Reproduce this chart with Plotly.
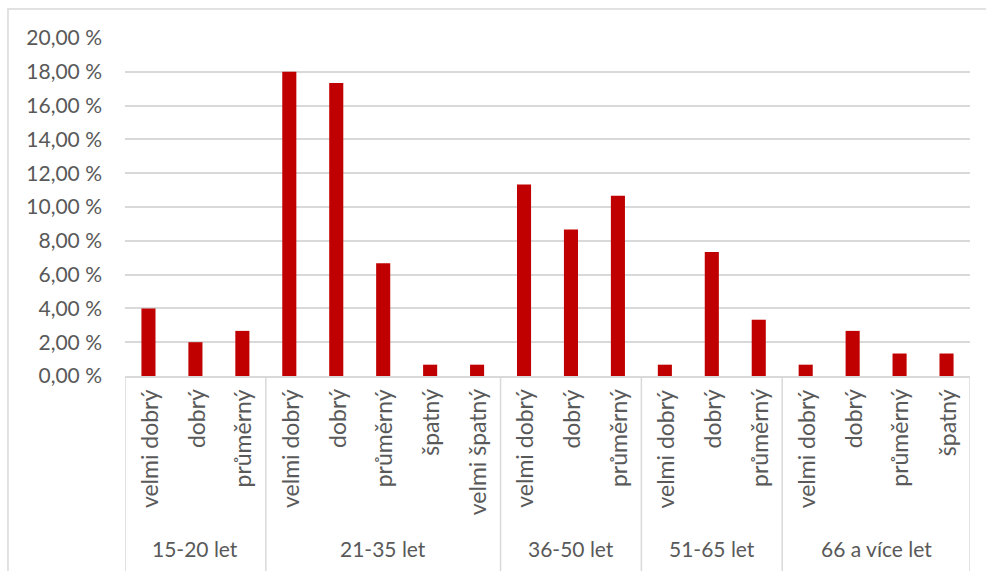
import plotly.graph_objects as go

groups = ["15-20 let", "21-35 let", "36-50 let", "51-65 let", "66 a více let"]
group_items = [
    ["velmi dobrý", "dobrý", "průměrný"],
    ["velmi dobrý", "dobrý", "průměrný", "špatný", "velmi špatný"],
    ["velmi dobrý", "dobrý", "průměrný"],
    ["velmi dobrý", "dobrý", "průměrný"],
    ["velmi dobrý", "dobrý", "průměrný", "špatný"],
]
group_values = [
    [4.00, 2.00, 2.67],
    [18.00, 17.33, 6.67, 0.67, 0.67],
    [11.33, 8.67, 10.67],
    [0.67, 7.33, 3.33],
    [0.67, 2.67, 1.33, 1.33],
]
y_ticks = [0, 2, 4, 6, 8, 10, 12, 14, 16, 18, 20]
y_ticktext = ["%.2f %%" % v for v in y_ticks]
y_ticktext = [t.replace(".", ",") for t in y_ticktext]

labels, values = [], []
for items, vals in zip(group_items, group_values):
    labels += items
    values += vals
xs = list(range(len(labels)))

FONT = "Lato"
TXT = "#595959"
GRID = "#d9d9d9"

fig = go.Figure(go.Bar(x=xs, y=values, marker_color="#C00000", width=0.3,
                       marker_line_width=0))

ann = []
shapes = []
for x, lab in zip(xs, labels):
    ann.append(dict(x=x, y=-0.033, xref="x", yref="paper", text=lab, textangle=-90,
                    showarrow=False, xanchor="center", yanchor="top",
                    font=dict(family=FONT, size=23, color=TXT)))
start = 0
bounds = [-0.5]
for g, items in zip(groups, group_items):
    n = len(items)
    center = start + (n - 1) / 2
    ann.append(dict(x=center, y=-0.509, xref="x", yref="paper", text=g,
                    showarrow=False, xanchor="center", yanchor="middle",
                    font=dict(family=FONT, size=21, color=TXT)))
    start += n
    bounds.append(start - 0.5)
for b in bounds:
    shapes.append(dict(type="line", xref="x", yref="paper", x0=b, x1=b, y0=0, y1=-0.62,
                       line=dict(color=GRID, width=1.5)))
# outer frame
shapes.append(dict(type="rect", xref="paper", yref="paper", x0=-0.1385, x1=1.1, y0=-0.7, y1=1.0858,
                   line=dict(color=GRID, width=1.5), fillcolor="rgba(0,0,0,0)", layer="below"))

fig.update_layout(
    width=986, height=571,
    margin=dict(l=125, r=16, t=38, b=195),
    paper_bgcolor="white", plot_bgcolor="white",
    showlegend=False,
    annotations=ann, shapes=shapes,
    xaxis=dict(range=[-0.5, len(labels) - 0.5], showticklabels=False, showgrid=False,
               zeroline=False, showline=True, linecolor=GRID, linewidth=1.5, ticks="",
               fixedrange=True),
    yaxis=dict(range=[0, 20], tickvals=y_ticks, ticktext=y_ticktext, showgrid=True,
               gridcolor=GRID, gridwidth=1.5, zeroline=False, showline=False, ticks="",
               tickfont=dict(family=FONT, size=21, color=TXT), ticklabelstandoff=22,
               fixedrange=True),
)
fig.write_html("out.html")
